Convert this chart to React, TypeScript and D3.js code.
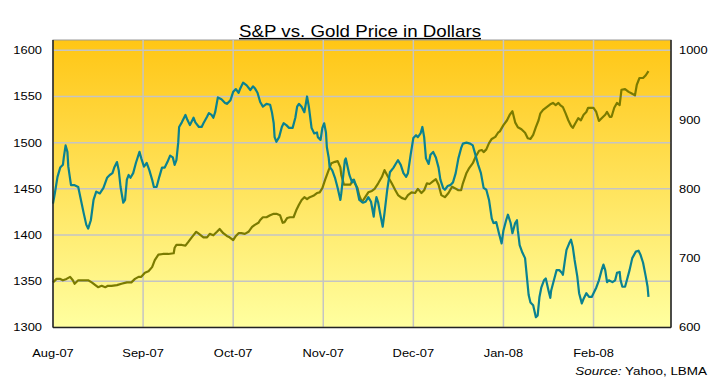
import React from 'react';
import * as d3 from 'd3';

// x positions are months since Aug-07 (0 = Aug-07, 1 = Sep-07, ...)
const monthLabels = ['Aug-07', 'Sep-07', 'Oct-07', 'Nov-07', 'Dec-07', 'Jan-08', 'Feb-08'];
const spTicks = [1300, 1350, 1400, 1450, 1500, 1550, 1600];
const goldTicks = [600, 700, 800, 900, 1000];

// S&P 500 close, [month offset, value]
const spx: [number, number][] = [
  [0.00, 1434], [0.02, 1445], [0.05, 1463], [0.08, 1473], [0.11, 1476], [0.12, 1484], [0.14, 1497], [0.16, 1490],
  [0.17, 1474], [0.20, 1454], [0.24, 1454], [0.28, 1452], [0.31, 1438], [0.34, 1424], [0.37, 1411], [0.39, 1407],
  [0.42, 1416], [0.45, 1438], [0.48, 1447], [0.52, 1445], [0.56, 1451], [0.60, 1462], [0.63, 1465], [0.66, 1467],
  [0.68, 1473], [0.71, 1479], [0.73, 1470], [0.75, 1452], [0.78, 1435], [0.80, 1438], [0.82, 1460], [0.84, 1465],
  [0.86, 1462], [0.89, 1467], [0.92, 1478], [0.96, 1490], [0.98, 1483], [1.01, 1474], [1.04, 1478], [1.07, 1470],
  [1.10, 1460], [1.12, 1452], [1.15, 1452], [1.18, 1463], [1.21, 1473], [1.24, 1473], [1.27, 1479], [1.30, 1486],
  [1.33, 1484], [1.35, 1476], [1.37, 1481], [1.39, 1500], [1.40, 1517], [1.43, 1522], [1.47, 1530], [1.49, 1525],
  [1.52, 1519], [1.56, 1527], [1.58, 1522], [1.62, 1517], [1.65, 1517], [1.67, 1521], [1.71, 1528], [1.73, 1532],
  [1.76, 1530], [1.78, 1527], [1.80, 1533], [1.83, 1549], [1.87, 1547], [1.91, 1543], [1.93, 1542], [1.97, 1546],
  [2.00, 1555], [2.03, 1558], [2.06, 1554], [2.08, 1559], [2.11, 1565], [2.15, 1562], [2.19, 1557], [2.22, 1561],
  [2.24, 1559], [2.27, 1554], [2.30, 1544], [2.33, 1539], [2.37, 1542], [2.41, 1541], [2.43, 1533], [2.45, 1521],
  [2.46, 1506], [2.48, 1501], [2.51, 1506], [2.54, 1517], [2.56, 1521], [2.59, 1519], [2.62, 1516], [2.66, 1516],
  [2.69, 1527], [2.71, 1539], [2.73, 1542], [2.76, 1539], [2.79, 1533], [2.81, 1544], [2.82, 1550], [2.84, 1539],
  [2.87, 1516], [2.90, 1510], [2.93, 1511], [2.94, 1506], [2.97, 1503], [2.99, 1516], [3.01, 1521], [3.03, 1511],
  [3.04, 1495], [3.06, 1484], [3.07, 1474], [3.10, 1470], [3.13, 1462], [3.16, 1451], [3.19, 1438], [3.20, 1445],
  [3.22, 1463], [3.24, 1481], [3.25, 1483], [3.27, 1474], [3.29, 1465], [3.32, 1457], [3.34, 1460], [3.37, 1452],
  [3.40, 1438], [3.44, 1435], [3.47, 1436], [3.50, 1441], [3.53, 1436], [3.56, 1420], [3.57, 1429], [3.59, 1441],
  [3.61, 1435], [3.63, 1424], [3.66, 1409], [3.68, 1424], [3.71, 1449], [3.74, 1468], [3.78, 1473], [3.81, 1478],
  [3.83, 1481], [3.86, 1476], [3.89, 1467], [3.92, 1463], [3.94, 1467], [3.97, 1487], [4.00, 1505], [4.03, 1508],
  [4.05, 1506], [4.08, 1510], [4.10, 1517], [4.12, 1506], [4.14, 1483], [4.17, 1477], [4.19, 1487], [4.22, 1490],
  [4.25, 1484], [4.28, 1473], [4.30, 1460], [4.33, 1451], [4.35, 1449], [4.38, 1453], [4.41, 1454], [4.44, 1457],
  [4.47, 1467], [4.50, 1483], [4.53, 1494], [4.55, 1499], [4.59, 1500], [4.63, 1499], [4.66, 1497], [4.68, 1490],
  [4.72, 1476], [4.75, 1467], [4.78, 1451], [4.81, 1449], [4.84, 1438], [4.87, 1418], [4.89, 1413], [4.92, 1414],
  [4.95, 1402], [4.98, 1391], [5.00, 1405], [5.03, 1416], [5.05, 1422], [5.08, 1413], [5.10, 1402], [5.13, 1413],
  [5.15, 1416], [5.16, 1405], [5.18, 1389], [5.21, 1381], [5.24, 1375], [5.26, 1355], [5.28, 1335], [5.30, 1327],
  [5.33, 1324], [5.36, 1311], [5.38, 1313], [5.40, 1333], [5.42, 1343], [5.45, 1351], [5.47, 1353], [5.50, 1340],
  [5.52, 1332], [5.53, 1340], [5.56, 1351], [5.59, 1362], [5.62, 1362], [5.65, 1359], [5.66, 1357], [5.68, 1371],
  [5.70, 1384], [5.73, 1391], [5.75, 1395], [5.77, 1387], [5.79, 1373], [5.82, 1355], [5.84, 1337], [5.87, 1326],
  [5.89, 1331], [5.92, 1337], [5.95, 1333], [5.98, 1333], [6.00, 1337], [6.03, 1343], [6.06, 1351], [6.09, 1362],
  [6.11, 1368], [6.13, 1362], [6.15, 1349], [6.17, 1351], [6.21, 1349], [6.24, 1351], [6.26, 1359], [6.29, 1360],
  [6.30, 1351], [6.32, 1344], [6.35, 1344], [6.37, 1351], [6.40, 1362], [6.43, 1375], [6.47, 1382], [6.50, 1383],
  [6.52, 1379], [6.55, 1370], [6.58, 1355], [6.60, 1344], [6.61, 1333],
];

// LBMA gold price in USD, [month offset, value]
const gold: [number, number][] = [
  [0.00, 665], [0.04, 670], [0.08, 670], [0.11, 668], [0.15, 670], [0.19, 673], [0.22, 668], [0.24, 663],
  [0.28, 668], [0.34, 668], [0.39, 668], [0.43, 665], [0.47, 661], [0.50, 658], [0.54, 660], [0.58, 658],
  [0.61, 660], [0.65, 660], [0.71, 661], [0.76, 663], [0.82, 665], [0.87, 665], [0.91, 670], [0.95, 673],
  [0.98, 673], [1.02, 679], [1.06, 681], [1.10, 687], [1.13, 697], [1.17, 705], [1.22, 706], [1.28, 706],
  [1.34, 707], [1.35, 715], [1.37, 719], [1.43, 719], [1.47, 718], [1.50, 723], [1.54, 730], [1.59, 738],
  [1.61, 736], [1.67, 730], [1.71, 730], [1.74, 735], [1.78, 733], [1.82, 738], [1.85, 742], [1.89, 736],
  [1.93, 732], [1.96, 730], [2.00, 726], [2.03, 732], [2.06, 736], [2.09, 736], [2.13, 735], [2.17, 738],
  [2.21, 745], [2.24, 748], [2.28, 751], [2.30, 755], [2.33, 759], [2.37, 759], [2.41, 762], [2.45, 764],
  [2.48, 764], [2.52, 762], [2.55, 751], [2.57, 752], [2.60, 758], [2.63, 759], [2.67, 759], [2.70, 769],
  [2.73, 777], [2.76, 784], [2.79, 788], [2.82, 785], [2.85, 788], [2.89, 790], [2.93, 794], [2.96, 795],
  [2.99, 801], [3.02, 813], [3.06, 827], [3.09, 837], [3.13, 839], [3.16, 840], [3.19, 831], [3.20, 820],
  [3.23, 806], [3.26, 806], [3.30, 806], [3.33, 813], [3.35, 808], [3.38, 801], [3.40, 790], [3.43, 781],
  [3.46, 787], [3.50, 795], [3.54, 797], [3.57, 800], [3.61, 808], [3.65, 817], [3.68, 827], [3.72, 817],
  [3.76, 808], [3.80, 798], [3.83, 791], [3.87, 787], [3.91, 785], [3.94, 791], [3.98, 795], [4.02, 794],
  [4.05, 800], [4.09, 794], [4.12, 798], [4.15, 808], [4.18, 807], [4.22, 811], [4.25, 814], [4.28, 806],
  [4.31, 791], [4.35, 788], [4.39, 794], [4.43, 803], [4.46, 801], [4.50, 798], [4.53, 798], [4.55, 808],
  [4.59, 823], [4.62, 830], [4.66, 837], [4.69, 846], [4.73, 855], [4.76, 856], [4.78, 853], [4.81, 857],
  [4.84, 866], [4.87, 872], [4.91, 875], [4.94, 881], [4.96, 883], [5.00, 892], [5.04, 899], [5.07, 907],
  [5.10, 912], [5.13, 896], [5.16, 889], [5.20, 886], [5.24, 881], [5.27, 873], [5.30, 872], [5.33, 878],
  [5.36, 889], [5.39, 899], [5.41, 909], [5.44, 914], [5.48, 918], [5.52, 922], [5.55, 924], [5.58, 921],
  [5.61, 924], [5.63, 921], [5.66, 918], [5.69, 909], [5.72, 899], [5.75, 891], [5.77, 888], [5.80, 895],
  [5.83, 902], [5.86, 899], [5.89, 907], [5.92, 911], [5.94, 917], [5.97, 917], [6.00, 917], [6.03, 911],
  [6.06, 898], [6.09, 902], [6.13, 907], [6.15, 911], [6.18, 904], [6.20, 904], [6.23, 917], [6.26, 924],
  [6.29, 921], [6.31, 943], [6.35, 944], [6.39, 940], [6.42, 938], [6.46, 935], [6.48, 950], [6.51, 960],
  [6.55, 960], [6.58, 964], [6.61, 970],
];

const W = 720;
const H = 386;
const plot = { left: 53, right: 671, top: 40, bottom: 327.4, gridTop: 50.3 };
const font = '"Liberation Sans", Arial, sans-serif';
const stretch = 1.17; // the source picture is a little wider than normal Arial

const x = d3.scaleLinear().domain([0, 6.86]).range([plot.left, plot.right]);
const yL = d3.scaleLinear().domain([1300, 1600]).range([plot.bottom, plot.gridTop]);
const yR = d3.scaleLinear().domain([600, 1000]).range([plot.bottom, plot.gridTop]);

const spLine = d3.line<[number, number]>().x(d => x(d[0])).y(d => yL(d[1]));
const goldLine = d3.line<[number, number]>().x(d => x(d[0])).y(d => yR(d[1]));

const Label = ({ x: tx, y: ty, anchor, size, children, style }: any) => (
  <text
    transform={`translate(${tx},${ty}) scale(${stretch},1)`}
    textAnchor={anchor}
    fontSize={size}
    fontFamily={font}
    fill="#000"
    style={style}
  >
    {children}
  </text>
);

export default function App() {
  return (
    <svg width={W} height={H} style={{ position: 'absolute', left: 0, top: 0, background: '#fff' }}>
      <defs>
        <linearGradient id="bg" x1="0" y1="0" x2="0" y2="1">
          <stop offset="0%" stopColor="#FFC615" />
          <stop offset="100%" stopColor="#FFFFA0" />
        </linearGradient>
      </defs>

      <Label x={W / 2} y={37} anchor="middle" size={16} style={{ textDecoration: 'underline' }}>
        S&amp;P vs. Gold Price in Dollars
      </Label>

      <rect x={plot.left} y={plot.top} width={plot.right - plot.left} height={plot.bottom - plot.top}
        fill="url(#bg)" stroke="#999" strokeWidth={1} />

      {spTicks.slice(1).map(t => (
        <line key={t} x1={plot.left} x2={plot.right} y1={yL(t)} y2={yL(t)} stroke="#C4C4C4" strokeWidth={1.5} />
      ))}
      {monthLabels.slice(1).map((m, i) => (
        <line key={m} x1={x(i + 1)} x2={x(i + 1)} y1={plot.top} y2={plot.bottom} stroke="#C4C4C4" strokeWidth={1.5} />
      ))}

      <path d={goldLine(gold) || ''} fill="none" stroke="#7B7B00" strokeWidth={2.2} strokeLinejoin="round" />
      <path d={spLine(spx) || ''} fill="none" stroke="#0A8291" strokeWidth={2.2} strokeLinejoin="round" />

      <line x1={plot.left} x2={plot.left} y1={plot.top} y2={plot.bottom} stroke="#222" strokeWidth={1.5} />
      <line x1={plot.right} x2={plot.right} y1={plot.top} y2={plot.bottom} stroke="#222" strokeWidth={1.5} />
      <line x1={plot.left} x2={plot.right} y1={plot.bottom} y2={plot.bottom} stroke="#222" strokeWidth={1.5} />

      {spTicks.map(t => (
        <Label key={t} x={42} y={yL(t) + 4} anchor="end" size={11}>{t}</Label>
      ))}
      {goldTicks.map(t => (
        <Label key={t} x={679} y={yR(t) + 4} anchor="start" size={11}>{t}</Label>
      ))}
      {monthLabels.map((m, i) => (
        <Label key={m} x={x(i)} y={357} anchor="middle" size={11}>{m}</Label>
      ))}

      <Label x={707} y={375} anchor="end" size={11.5}>
        <tspan fontStyle="italic">Source:</tspan> Yahoo, LBMA
      </Label>
    </svg>
  );
}
